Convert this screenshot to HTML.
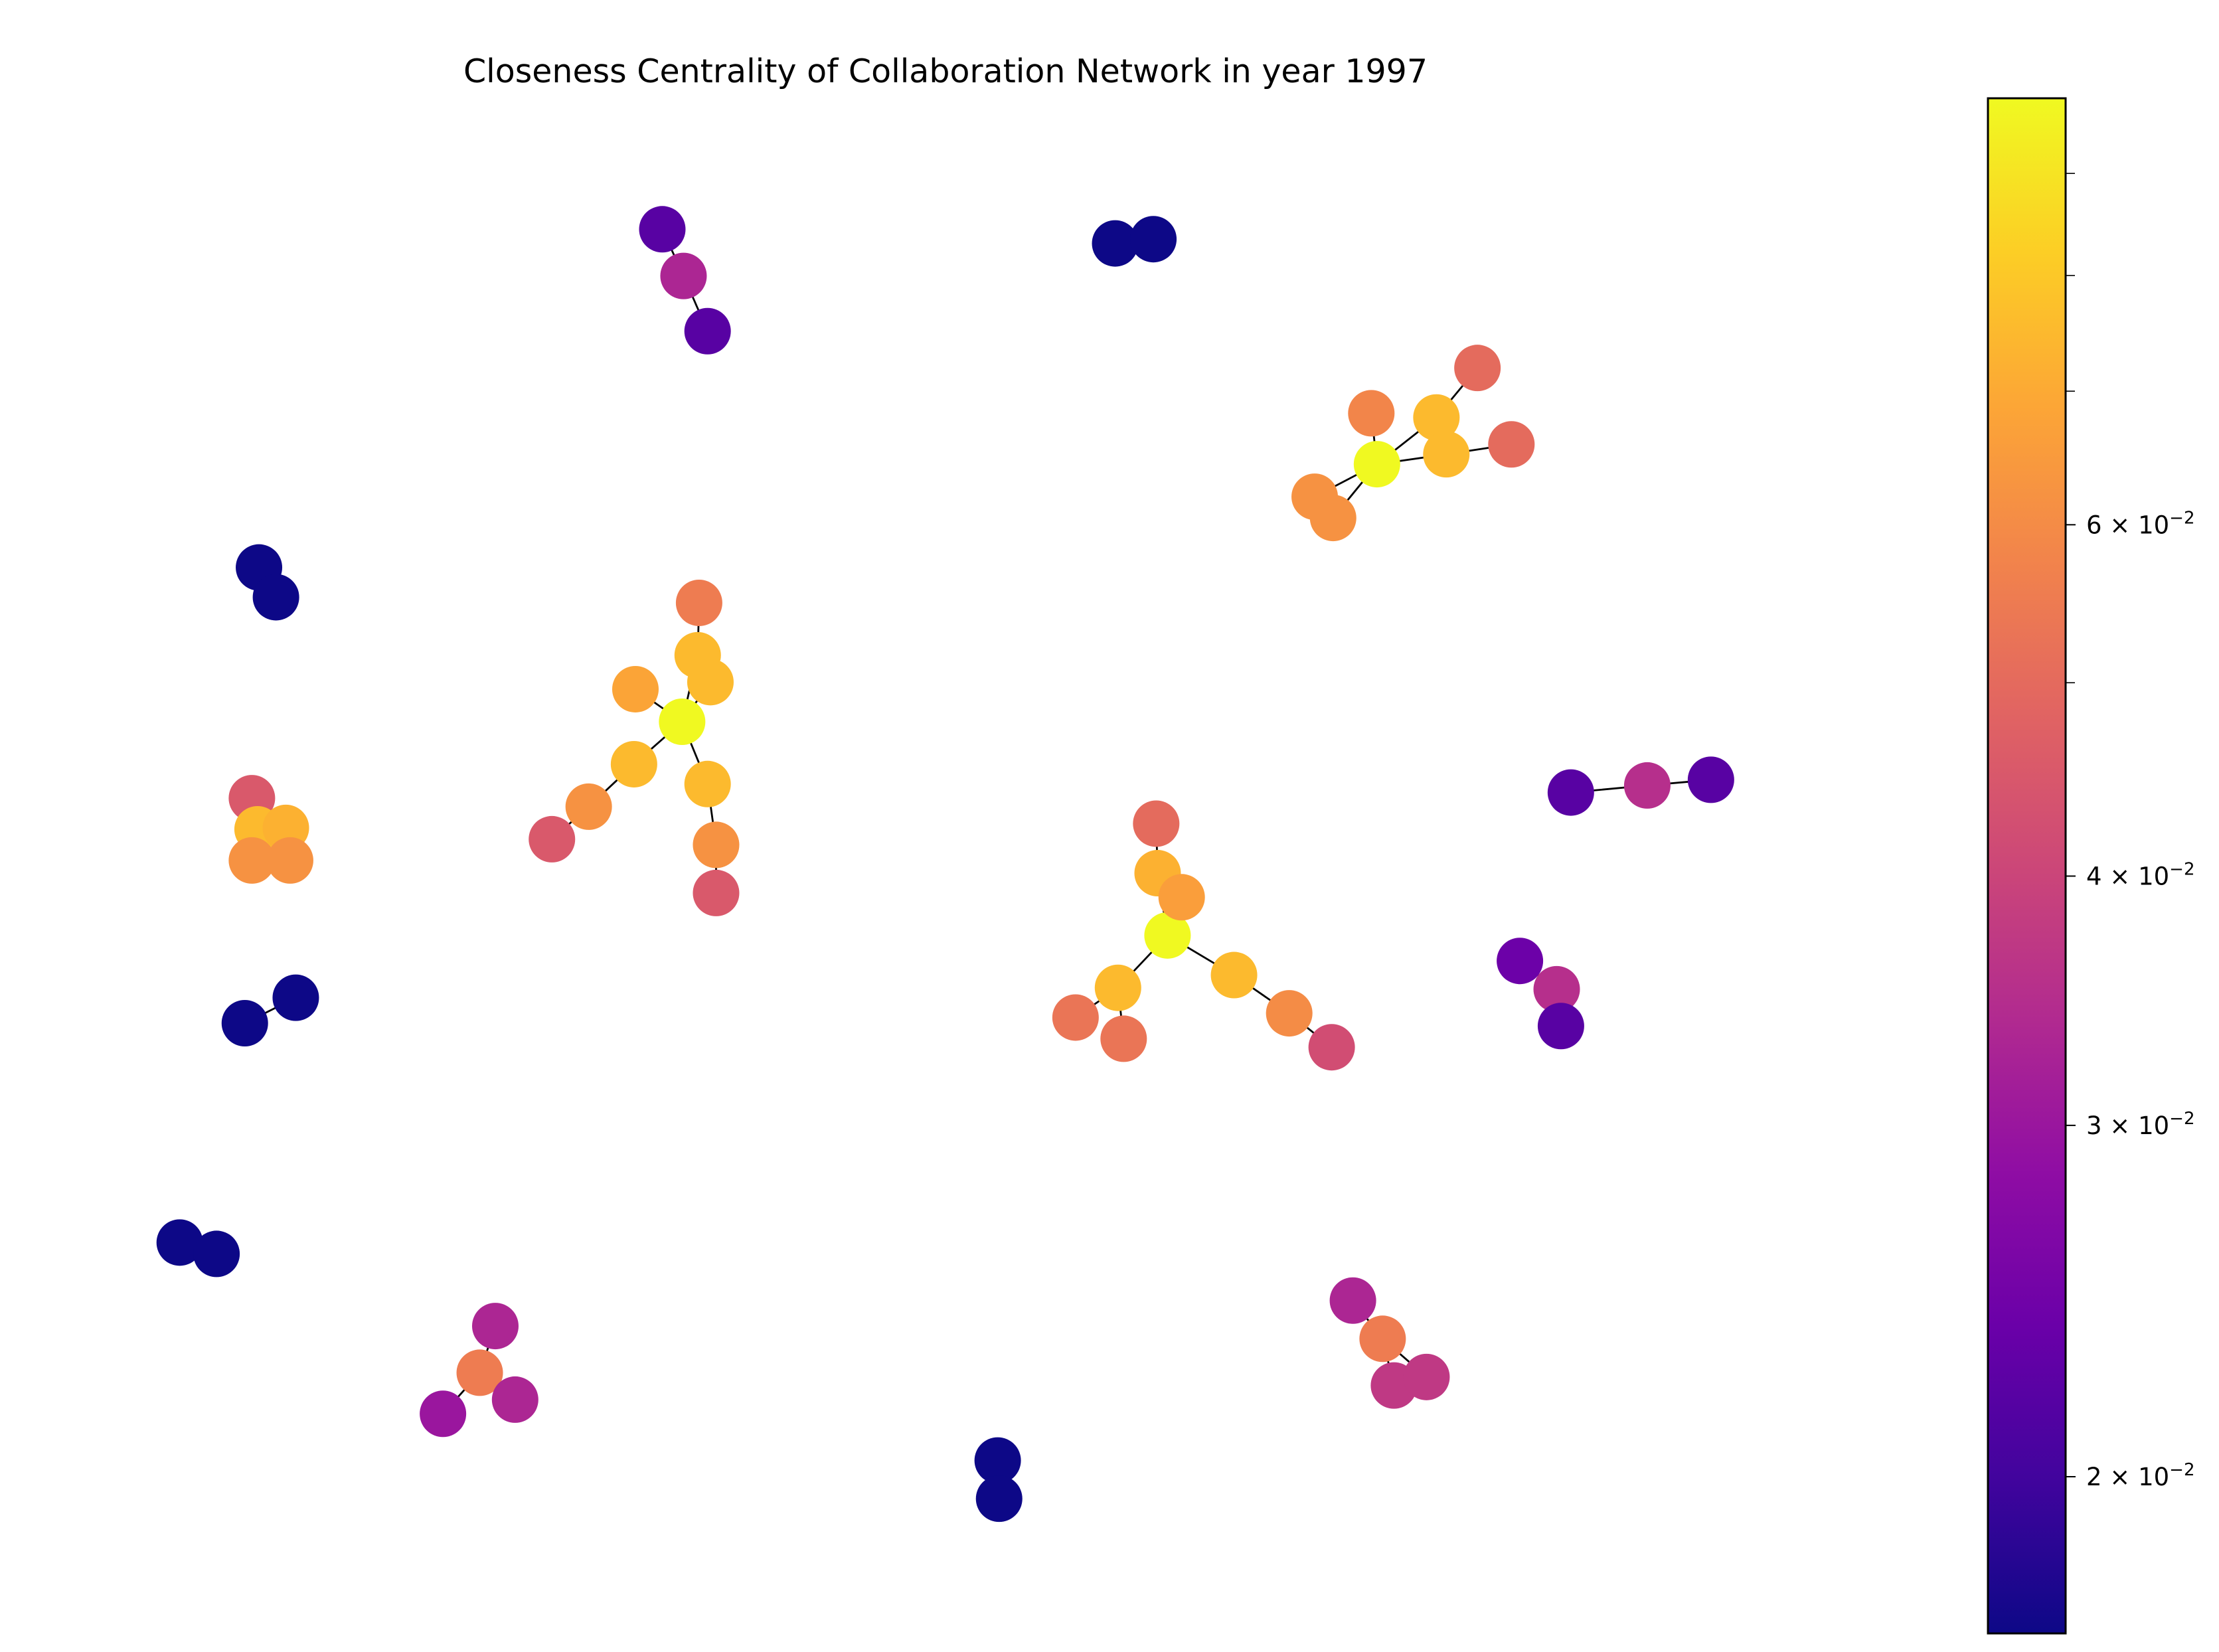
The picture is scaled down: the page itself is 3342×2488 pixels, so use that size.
<!DOCTYPE html>
<html><head><meta charset="utf-8"><style>
html,body{margin:0;padding:0;background:#fff;}
svg{display:block;font-family:"DejaVu Sans","Liberation Sans",sans-serif;}
</style></head><body>
<svg id="chart" width="3342" height="2488" viewBox="0 0 3342 2488" xmlns="http://www.w3.org/2000/svg">
<defs>
<linearGradient id="plasma" x1="0" y1="1" x2="0" y2="0">
<stop offset="0" stop-color="#0d0887"/><stop offset="0.1" stop-color="#41049d"/><stop offset="0.2" stop-color="#6a00a8"/><stop offset="0.3" stop-color="#8f0da4"/><stop offset="0.4" stop-color="#b12a90"/><stop offset="0.5" stop-color="#cc4778"/><stop offset="0.6" stop-color="#e16462"/><stop offset="0.7" stop-color="#f2844b"/><stop offset="0.8" stop-color="#fca636"/><stop offset="0.9" stop-color="#fcce25"/><stop offset="1" stop-color="#f0f921"/>
</linearGradient>
</defs>
<text x="1424" y="124" font-size="49" text-anchor="middle">Closeness Centrality of Collaboration Network in year 1997</text>
<g id="edges"></g>
<g id="nodes"></g>
<rect x="2994" y="148" width="117" height="2312" fill="url(#plasma)" stroke="#000" stroke-width="3"/>
<g id="cbticks"></g>
</svg>
<script>
const nodeX=[468,483,500, 788,815, 973,1015,1022,969,1044,1068,929,942, 183,195, 482,494,493,502,449,448,416,390,500,506,506, 178,182,202,178,205, 173,209, 127,153, 350,339,313,364, 705,706, 825,817,818,835,790,760,794,872,911,941, 1110,1164,1209, 1074,1100,1103, 956,977,985,1008];
const nodeY=[162,195,234, 172,169, 328,295,321,292,260,314,351,366, 401,422, 510,426,463,482,487,540,570,593,554,597,631, 564,586,585,608,608, 723,705, 878,886, 937,970,999,989, 1032,1059, 661,582,617,634,698,719,734,689,716,740, 560,555,551, 679,699,725, 919,946,979,973];
const nodeValue=[0.022,0.033,0.022, 0.0167,0.0167, 0.0978,0.075,0.075,0.058,0.05,0.05,0.062,0.062, 0.0167,0.0167, 0.0978,0.055,0.075,0.075,0.068,0.075,0.062,0.045,0.075,0.062,0.045, 0.045,0.075,0.072,0.062,0.062, 0.0167,0.0167, 0.0167,0.0167, 0.033,0.055,0.03,0.033, 0.0167,0.0167, 0.0978,0.05,0.072,0.066,0.075,0.053,0.053,0.075,0.06,0.042, 0.022,0.035,0.022, 0.024,0.035,0.022, 0.033,0.055,0.037,0.037];
const edgeFrom=[0,1, 3, 5,5,5,6,7,5,5, 13, 16,17,18,19,15,20,21,15,23,24, 26,27,28,27, 31, 33, 35,36,36, 39, 42,43,44,41,45,45,41,48,49, 51,52, 54,55, 57,58,58];
const edgeTo=[1,2, 4, 6,7,8,9,10,11,12, 14, 17,15,15,15,20,21,22,23,24,25, 27,28,29,30, 32, 34, 36,37,38, 40, 43,41,41,45,46,47,48,49,50, 52,53, 55,56, 58,59,60];
const ticks=[0.02,0.03,0.04,0.06];
const tickMantissa=["2","3","4","6"];
const minorTicks=[0.05,0.07,0.08,0.09];
const S=3342/1568, vmin=0.0167, vmax=0.0978;
const stops=["#0d0887","#41049d","#6a00a8","#8f0da4","#b12a90","#cc4778","#e16462","#f2844b","#fca636","#fcce25","#f0f921"];
function hex(h){return [1,3,5].map(i=>parseInt(h.substr(i,2),16));}
function cmap(v){let t=(Math.log(v)-Math.log(vmin))/(Math.log(vmax)-Math.log(vmin));t=Math.max(0,Math.min(1,t));let p=t*10,i=Math.min(9,Math.floor(p)),f=p-i;const a=hex(stops[i]),b=hex(stops[i+1]);return "rgb("+a.map((c,k)=>Math.round(c+(b[k]-c)*f)).join(",")+")";}
function sx(x){return x*S;} function sy(y){return y*S;}
function cy(v){return 2224-1305*Math.log(v/0.02);}
const NS="http://www.w3.org/2000/svg";
const eg=document.getElementById("edges"),ng=document.getElementById("nodes"),tg=document.getElementById("cbticks");
for(let i=0;i<edgeFrom.length;i++){const l=document.createElementNS(NS,"line");


l.setAttribute("x1",sx(nodeX[edgeFrom[i]]));l.setAttribute("y1",sy(nodeY[edgeFrom[i]]));l.setAttribute("x2",sx(nodeX[edgeTo[i]]));l.setAttribute("y2",sy(nodeY[edgeTo[i]]));l.setAttribute("stroke","#000");l.setAttribute("stroke-width","2.8");eg.appendChild(l);}
for(let i=0;i<nodeX.length;i++){const c=document.createElementNS(NS,"circle");


c.setAttribute("cx",sx(nodeX[i]));c.setAttribute("cy",sy(nodeY[i]));c.setAttribute("r",35);c.setAttribute("fill",cmap(nodeValue[i]));ng.appendChild(c);}
for(let i=0;i<ticks.length;i++){const y=cy(ticks[i]);const l=document.createElementNS(NS,"line");


l.setAttribute("x1",3112);l.setAttribute("x2",3126);l.setAttribute("y1",y);l.setAttribute("y2",y);l.setAttribute("stroke","#000");l.setAttribute("stroke-width","2");tg.appendChild(l);
const t=document.createElementNS(NS,"text");


t.setAttribute("x",3142);t.setAttribute("y",y+13);t.setAttribute("font-size","37");
t.innerHTML=tickMantissa[i]+" × 10<tspan dy='-15' font-size='26'>−2</tspan>";tg.appendChild(t);}
for(let i=0;i<minorTicks.length;i++){const y=cy(minorTicks[i]);const l=document.createElementNS(NS,"line");


l.setAttribute("x1",3112);l.setAttribute("x2",3125);l.setAttribute("y1",y);l.setAttribute("y2",y);l.setAttribute("stroke","#000");l.setAttribute("stroke-width","1.6");tg.appendChild(l);}
</script>
</body></html>
